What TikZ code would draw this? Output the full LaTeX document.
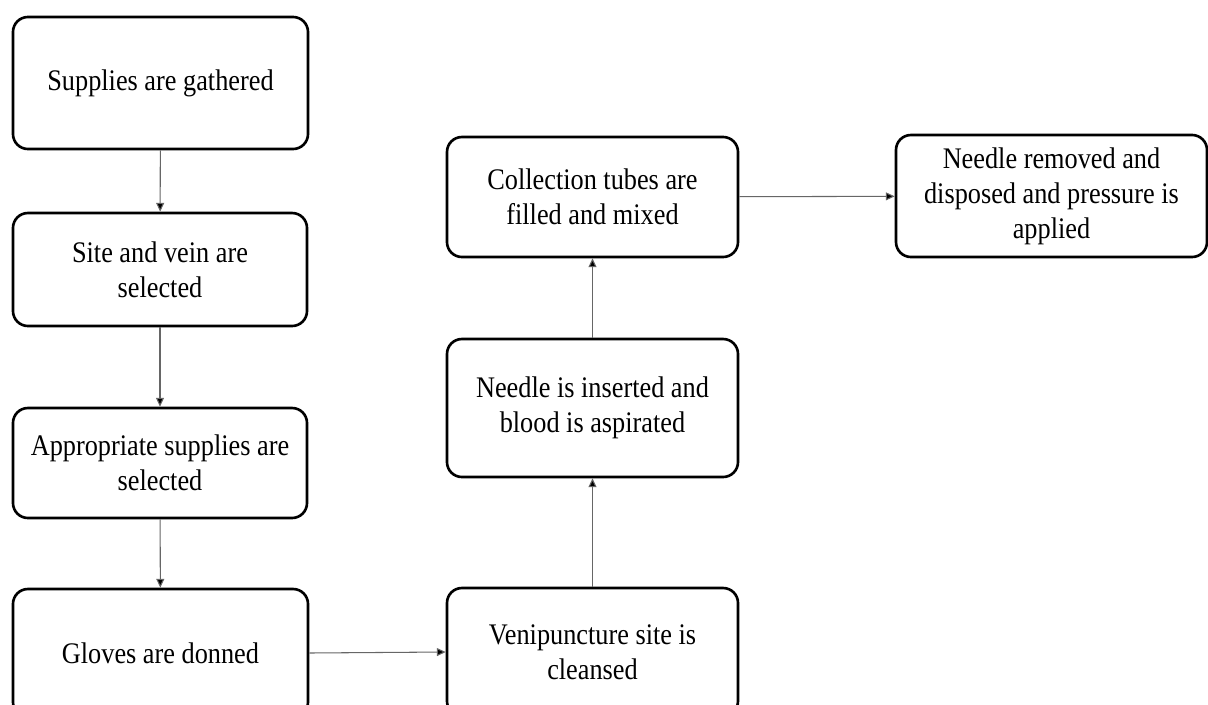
\documentclass[tikz,border=0pt]{standalone}
\usepackage{fontspec}
\setmainfont[FakeStretch=0.88]{Liberation Serif}
\usetikzlibrary{arrows.meta}

\tikzset{
  stepbox/.style={draw=black, line width=1.5pt, rounded corners=8.5pt, fill=white,
    align=center, inner sep=0pt},
  flow/.style={draw=gray!80!black, line width=0.6pt, -{Triangle[length=5pt,width=4.5pt,fill=black]}}
}

\begin{document}
\begin{tikzpicture}[font=\fontsize{17}{20}\selectfont]
  \clip (0,0) rectangle (24.16,-14.08);

  % left column
  \node[stepbox, minimum width=5.9cm, minimum height=2.64cm] (gather) at (3.21,-1.66)
    {Supplies are gathered};
  \node[stepbox, minimum width=5.88cm, minimum height=2.26cm] (site) at (3.2,-5.39)
    {Site and vein are\\selected};
  \node[stepbox, minimum width=5.88cm, minimum height=2.2cm] (select) at (3.2,-9.26)
    {Appropriate supplies are\\selected};
  \node[stepbox, minimum width=5.9cm, minimum height=2.56cm] (gloves) at (3.21,-13.06)
    {Gloves are donned};

  % middle column
  \node[stepbox, minimum width=5.82cm, minimum height=2.56cm] (cleanse) at (11.85,-13.04)
    {Venipuncture site is\\cleansed};
  \node[stepbox, minimum width=5.82cm, minimum height=2.76cm] (insert) at (11.85,-8.16)
    {Needle is inserted and\\blood is aspirated};
  \node[stepbox, minimum width=5.82cm, minimum height=2.4cm] (tubes) at (11.85,-3.94)
    {Collection tubes are\\filled and mixed};

  % right
  \node[stepbox, minimum width=6.22cm, minimum height=2.44cm] (remove) at (21.03,-3.92)
    {Needle removed and\\disposed and pressure is\\applied};

  \draw[flow] (gather) -- (site);
  \draw[flow] (site) -- (select);
  \draw[flow] (select) -- (gloves);
  \draw[flow] (gloves.east) -- (cleanse.west);
  \draw[flow] (cleanse) -- (insert);
  \draw[flow] (insert) -- (tubes);
  \draw[flow] (tubes) -- (remove);
\end{tikzpicture}
\end{document}
